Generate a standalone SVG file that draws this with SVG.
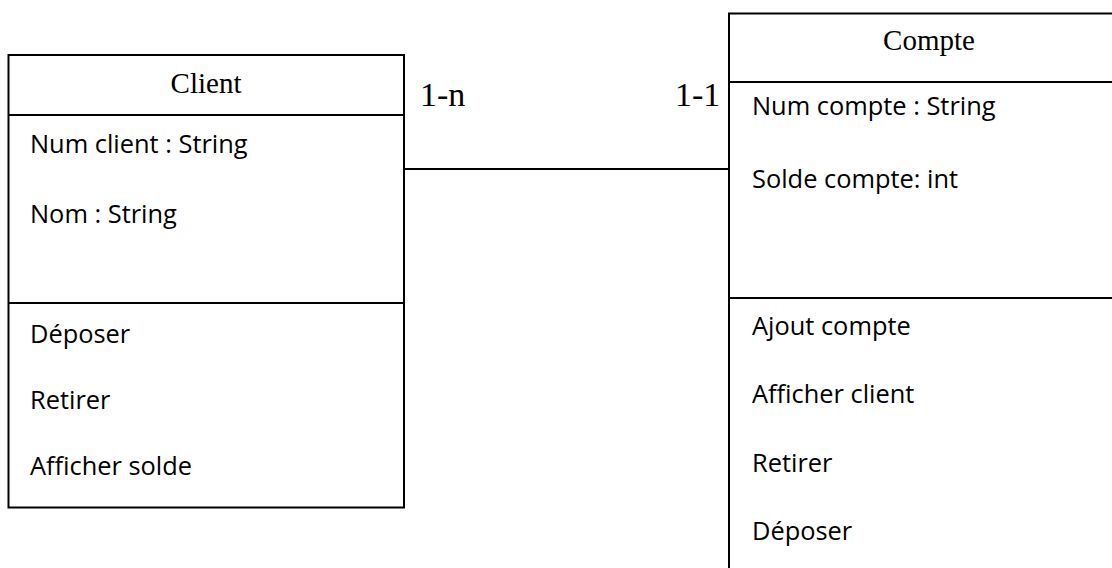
<svg xmlns="http://www.w3.org/2000/svg" width="1112" height="568" viewBox="0 0 1112 568">
  <style>
    .box { fill: #ffffff; stroke: #000000; stroke-width: 2; }
    .sep { stroke: #000000; stroke-width: 2; }
    .title { font-family: "Liberation Serif", "Times New Roman", serif; font-size: 29px; fill: #000000; text-anchor: middle; }
    .item { font-family: "Open Sans", "Noto Sans", sans-serif; font-size: 25.4px; fill: #000000; }
    .mult { font-family: "Liberation Serif", "Times New Roman", serif; font-size: 34px; fill: #000000; }
    .link { stroke: #000000; stroke-width: 2; fill: none; }
  </style>
  <rect width="1112" height="568" fill="#ffffff"/>

  <!-- association between the two classes -->
  <g id="connectors">
    <line class="link" x1="404" y1="169" x2="729" y2="169"/>
    <text class="mult" x="420" y="106">1-n</text>
    <text class="mult" x="675" y="106">1-1</text>
  </g>

  <!-- class Client -->
  <g id="client">
    <rect class="box" x="8.5" y="55" width="395.5" height="452.5"/>
    <line class="sep" x1="8.5" y1="115" x2="404" y2="115"/>
    <line class="sep" x1="8.5" y1="303" x2="404" y2="303"/>
    <text class="title" x="206" y="93">Client</text>
    <text class="item" x="30" y="153">Num client : String</text>
    <text class="item" x="30" y="223">Nom : String</text>
    <text class="item" x="30" y="343">Déposer</text>
    <text class="item" x="30" y="409">Retirer</text>
    <text class="item" x="30" y="475">Afficher solde</text>
  </g>

  <!-- class Compte (runs past the right and bottom edges) -->
  <g id="compte">
    <rect class="box" x="729" y="13.5" width="420" height="580"/>
    <line class="sep" x1="729" y1="82" x2="1120" y2="82"/>
    <line class="sep" x1="729" y1="298" x2="1120" y2="298"/>
    <text class="title" x="929" y="50">Compte</text>
    <text class="item" x="752" y="115">Num compte : String</text>
    <text class="item" x="752" y="188">Solde compte: int</text>
    <text class="item" x="752" y="335">Ajout compte</text>
    <text class="item" x="752" y="403">Afficher client</text>
    <text class="item" x="752" y="472">Retirer</text>
    <text class="item" x="752" y="540">Déposer</text>
  </g>
</svg>
